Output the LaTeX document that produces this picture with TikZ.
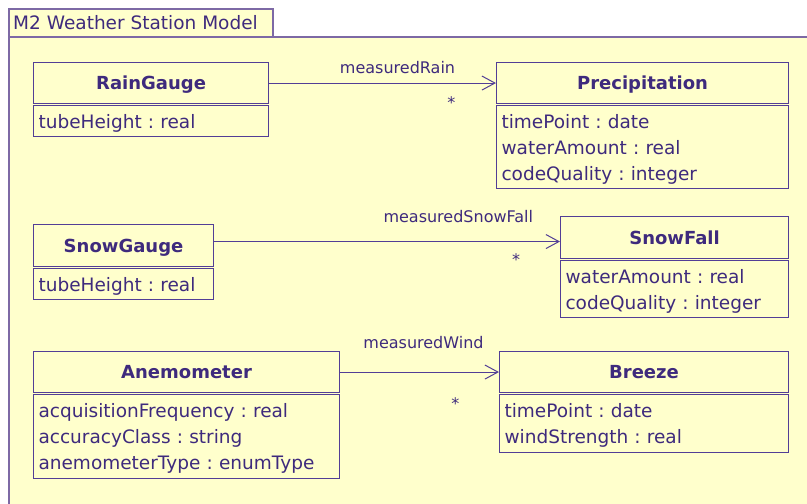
\documentclass[tikz,border=0pt]{standalone}
\usepackage{fontspec}
\setmainfont{DejaVu Sans}
\frenchspacing
\usetikzlibrary{arrows.meta}
\definecolor{umlfill}{RGB}{255,255,204}
\definecolor{umlline}{RGB}{82,62,150}
\definecolor{umlframe}{RGB}{125,105,165}
\definecolor{umltext}{RGB}{62,42,125}
\begin{document}
\begin{tikzpicture}[x=1pt, y=-1pt,
  head/.style={draw=umlline, line width=1.1pt, fill=umlfill, anchor=north west, inner sep=0pt, text height=17pt, text depth=4pt, text=umltext, font=\fontsize{18}{20}\selectfont\bfseries},
  attr/.style={draw=umlline, line width=1.1pt, fill=umlfill, anchor=north west, inner xsep=5pt, inner ysep=0pt, text height=22.5pt, align=left, text=umltext, font=\fontsize{18.5}{26}\selectfont},
  assoc/.style={draw=umlline, line width=1pt, -{Straight Barb[length=13pt,width=14pt]}},
  role/.style={text=umltext, font=\fontsize{16}{18}\selectfont}]
\useasboundingbox (0,0) rectangle (807,504);
\fill[white] (0,0) rectangle (807,504);
\clip (0,0) rectangle (807,504);
\draw[umlframe, line width=1.5pt, fill=umlfill] (9,37) rectangle (830,530);
\draw[umlframe, line width=1.5pt, fill=umlfill] (9,9) rectangle (273,37);
\node[anchor=west, inner sep=0pt, text=umltext, font=\fontsize{18.5}{20}\selectfont] (title) at (13,23) {M2 Weather Station Model};
\node[head, minimum width=235pt, minimum height=41pt] (rain) at (33,62) {RainGauge};
\node[attr, text width=225pt, text depth=8.5pt] (rainatt) at (33,105) {tubeHeight : real};
\node[head, minimum width=292pt, minimum height=41pt] (prec) at (496,62) {Precipitation};
\node[attr, text width=282pt, text depth=60.5pt] (precatt) at (496,105) {timePoint : date\\waterAmount : real\\codeQuality : integer};
\draw[assoc] (rain) -- (prec) node[role, pos=0.566, above=5pt] {measuredRain} node[role, pos=0.803, below=10pt] {*};
\node[head, minimum width=180pt, minimum height=42pt] (snow) at (33,224) {SnowGauge};
\node[attr, text width=170pt, text depth=8.5pt] (snowatt) at (33,268) {tubeHeight : real};
\node[head, minimum width=228pt, minimum height=42pt] (fall) at (560,216) {SnowFall};
\node[attr, text width=218pt, text depth=34.5pt] (fallatt) at (560,260) {waterAmount : real\\codeQuality : integer};
\draw[assoc] ([yshift=4pt]snow.east) -- ([yshift=4pt]snow.east -| fall.west) node[role, pos=0.706, above=15pt] {measuredSnowFall} node[role, pos=0.873, below=8pt] {*};
\node[head, minimum width=306pt, minimum height=41pt] (anemo) at (33,351) {Anemometer};
\node[attr, text width=296pt, text depth=61.5pt] (anemoatt) at (33,394) {acquisitionFrequency : real\\accuracyClass : string\\anemometerType : enumType};
\node[head, minimum width=289pt, minimum height=41pt] (breeze) at (499,351) {Breeze};
\node[attr, text width=279pt, text depth=35.5pt] (breezeatt) at (499,394) {timePoint : date\\windStrength : real};
\draw[assoc] (anemo) -- (breeze) node[role, pos=0.525, above=19pt] {measuredWind} node[role, pos=0.725, below=22pt] {*};
\end{tikzpicture}
\end{document}
